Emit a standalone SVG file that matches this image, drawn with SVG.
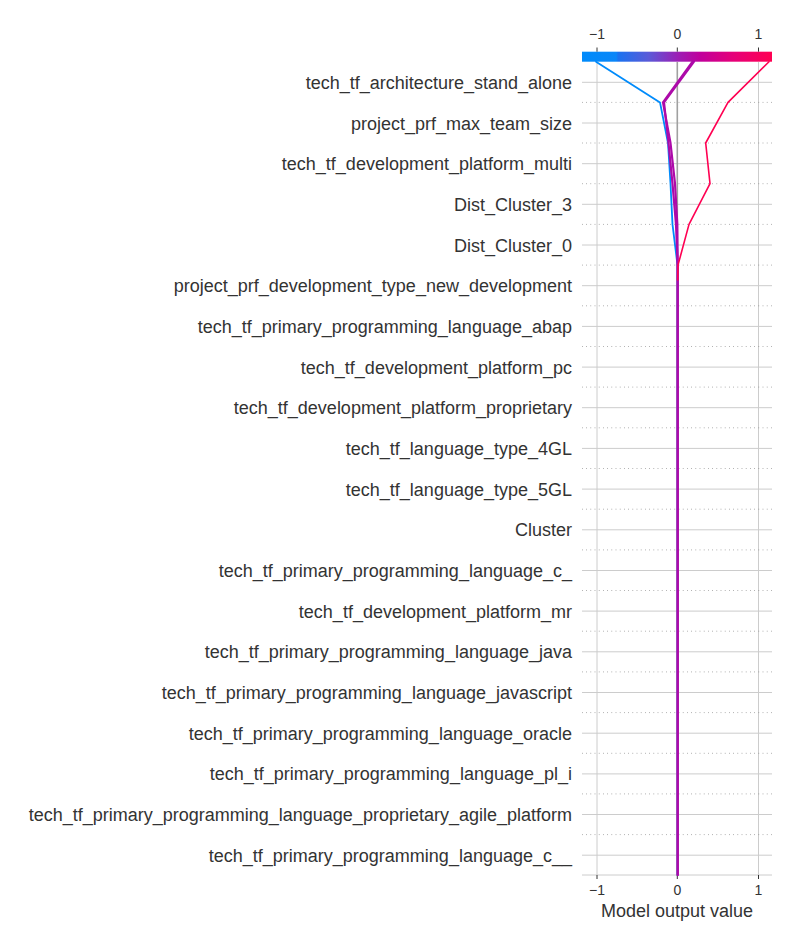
<svg xmlns="http://www.w3.org/2000/svg" width="800" height="950" viewBox="0 0 800 950">
<defs>
<linearGradient id="cbar" x1="582" y1="0" x2="772" y2="0" gradientUnits="userSpaceOnUse">
<stop offset="0" stop-color="#008bfb"/>
<stop offset="0.18" stop-color="#0a86f8"/>
<stop offset="0.19" stop-color="#1a72f0"/>
<stop offset="0.35" stop-color="#5a5ad8"/>
<stop offset="0.5" stop-color="#9a20b6"/>
<stop offset="0.62" stop-color="#c0009c"/>
<stop offset="0.8" stop-color="#e60078"/>
<stop offset="1" stop-color="#ff0052"/>
</linearGradient>
</defs>
<style>
.lbl{font-family:"Liberation Sans",Arial,sans-serif;font-size:18px;fill:#333333;text-anchor:end}
.tick{font-family:"Liberation Sans",Arial,sans-serif;font-size:14px;fill:#333333;text-anchor:middle}
.grid{stroke:#cccccc;stroke-width:1;fill:none}
.dot{stroke:#888888;stroke-width:0.8;stroke-dasharray:0.8 3.4;fill:none}
.tk{stroke:#333333;stroke-width:1}
.ln{fill:none;stroke-linejoin:round;stroke-linecap:round}
</style>
<rect width="800" height="950" fill="#ffffff"/>
<g id="grid">
<line class="grid" x1="597" y1="62" x2="597" y2="875"/>
<line class="grid" x1="758.5" y1="62" x2="758.5" y2="875"/>
<line class="grid" x1="582" y1="875" x2="772" y2="875"/>
<line class="grid" x1="582" y1="82.3" x2="772" y2="82.3"/>
<line class="grid" x1="582" y1="123" x2="772" y2="123"/>
<line class="grid" x1="582" y1="163.7" x2="772" y2="163.7"/>
<line class="grid" x1="582" y1="204.3" x2="772" y2="204.3"/>
<line class="grid" x1="582" y1="245" x2="772" y2="245"/>
<line class="grid" x1="582" y1="285.7" x2="772" y2="285.7"/>
<line class="grid" x1="582" y1="326.4" x2="772" y2="326.4"/>
<line class="grid" x1="582" y1="367.1" x2="772" y2="367.1"/>
<line class="grid" x1="582" y1="407.7" x2="772" y2="407.7"/>
<line class="grid" x1="582" y1="448.4" x2="772" y2="448.4"/>
<line class="grid" x1="582" y1="489.1" x2="772" y2="489.1"/>
<line class="grid" x1="582" y1="529.8" x2="772" y2="529.8"/>
<line class="grid" x1="582" y1="570.5" x2="772" y2="570.5"/>
<line class="grid" x1="582" y1="611.1" x2="772" y2="611.1"/>
<line class="grid" x1="582" y1="651.8" x2="772" y2="651.8"/>
<line class="grid" x1="582" y1="692.5" x2="772" y2="692.5"/>
<line class="grid" x1="582" y1="733.2" x2="772" y2="733.2"/>
<line class="grid" x1="582" y1="773.9" x2="772" y2="773.9"/>
<line class="grid" x1="582" y1="814.5" x2="772" y2="814.5"/>
<line class="grid" x1="582" y1="855.2" x2="772" y2="855.2"/>
<line class="dot" x1="582" y1="102.4" x2="772" y2="102.4"/>
<line class="dot" x1="582" y1="143" x2="772" y2="143"/>
<line class="dot" x1="582" y1="183.7" x2="772" y2="183.7"/>
<line class="dot" x1="582" y1="224.4" x2="772" y2="224.4"/>
<line class="dot" x1="582" y1="265.1" x2="772" y2="265.1"/>
<line class="dot" x1="582" y1="305.8" x2="772" y2="305.8"/>
<line class="dot" x1="582" y1="346.5" x2="772" y2="346.5"/>
<line class="dot" x1="582" y1="387.1" x2="772" y2="387.1"/>
<line class="dot" x1="582" y1="427.8" x2="772" y2="427.8"/>
<line class="dot" x1="582" y1="468.5" x2="772" y2="468.5"/>
<line class="dot" x1="582" y1="509.2" x2="772" y2="509.2"/>
<line class="dot" x1="582" y1="549.9" x2="772" y2="549.9"/>
<line class="dot" x1="582" y1="590.5" x2="772" y2="590.5"/>
<line class="dot" x1="582" y1="631.2" x2="772" y2="631.2"/>
<line class="dot" x1="582" y1="671.9" x2="772" y2="671.9"/>
<line class="dot" x1="582" y1="712.6" x2="772" y2="712.6"/>
<line class="dot" x1="582" y1="753.3" x2="772" y2="753.3"/>
<line class="dot" x1="582" y1="793.9" x2="772" y2="793.9"/>
<line class="dot" x1="582" y1="834.6" x2="772" y2="834.6"/>
<line x1="677.3" y1="62" x2="677.3" y2="875" stroke="#a0a0a0" stroke-width="1.6"/>
</g>
<g id="colorbar">
<rect x="582" y="51.7" width="190" height="10" fill="url(#cbar)"/>
<line class="tk" x1="597" y1="47.5" x2="597" y2="51.7"/>
<line class="tk" x1="677.3" y1="47.5" x2="677.3" y2="51.7"/>
<line class="tk" x1="758.5" y1="47.5" x2="758.5" y2="51.7"/>
<text class="tick" x="597" y="39">−1</text>
<text class="tick" x="677.3" y="39">0</text>
<text class="tick" x="758.5" y="39">1</text>
</g>
<g id="x-axis">
<line class="tk" x1="597" y1="875" x2="597" y2="879"/>
<line class="tk" x1="677.3" y1="875" x2="677.3" y2="879"/>
<line class="tk" x1="758.5" y1="875" x2="758.5" y2="879"/>
<text class="tick" x="597" y="895">−1</text>
<text class="tick" x="677.3" y="895">0</text>
<text class="tick" x="758.5" y="895">1</text>
<text x="677" y="917" font-family="'Liberation Sans',Arial,sans-serif" font-size="18" fill="#333333" text-anchor="middle">Model output value</text>
</g>
<g id="labels">
<text class="lbl" x="572" y="88.8">tech_tf_architecture_stand_alone</text>
<text class="lbl" x="572" y="129.5">project_prf_max_team_size</text>
<text class="lbl" x="572" y="170.2">tech_tf_development_platform_multi</text>
<text class="lbl" x="572" y="210.8">Dist_Cluster_3</text>
<text class="lbl" x="572" y="251.5">Dist_Cluster_0</text>
<text class="lbl" x="572" y="292.2">project_prf_development_type_new_development</text>
<text class="lbl" x="572" y="332.9">tech_tf_primary_programming_language_abap</text>
<text class="lbl" x="572" y="373.6">tech_tf_development_platform_pc</text>
<text class="lbl" x="572" y="414.2">tech_tf_development_platform_proprietary</text>
<text class="lbl" x="572" y="454.9">tech_tf_language_type_4GL</text>
<text class="lbl" x="572" y="495.6">tech_tf_language_type_5GL</text>
<text class="lbl" x="572" y="536.3">Cluster</text>
<text class="lbl" x="572" y="577">tech_tf_primary_programming_language_c_</text>
<text class="lbl" x="572" y="617.6">tech_tf_development_platform_mr</text>
<text class="lbl" x="572" y="658.3">tech_tf_primary_programming_language_java</text>
<text class="lbl" x="572" y="699">tech_tf_primary_programming_language_javascript</text>
<text class="lbl" x="572" y="739.7">tech_tf_primary_programming_language_oracle</text>
<text class="lbl" x="572" y="780.4">tech_tf_primary_programming_language_pl_i</text>
<text class="lbl" x="572" y="821">tech_tf_primary_programming_language_proprietary_agile_platform</text>
<text class="lbl" x="572" y="861.7">tech_tf_primary_programming_language_c__</text>
</g>
<g id="connectors">
<polyline class="ln" stroke="#008bfb" stroke-width="1.8" points="596,61.7 660,102.4 668,143 670.5,183.7 672.5,224.4 677.5,265.1 677.5,875"/>
<polyline class="ln" stroke="#ad0aa9" stroke-width="2.2" points="694,61.7 664,102.4 668.5,143 672.5,183.7 676,224.4 677.7,265.1 677.7,875"/>
<polyline class="ln" stroke="#ad0aa9" stroke-width="2.2" points="692.5,61.7 663,102.4 670.5,143 675,183.7 677.3,224.4 677.7,265.1 677.7,875"/>
<polyline class="ln" stroke="#ff0052" stroke-width="1.6" points="769,61.7 728,102.4 705.7,143 710,183.7 689,224.4 678,265.1 677.7,280"/>
</g>
</svg>
